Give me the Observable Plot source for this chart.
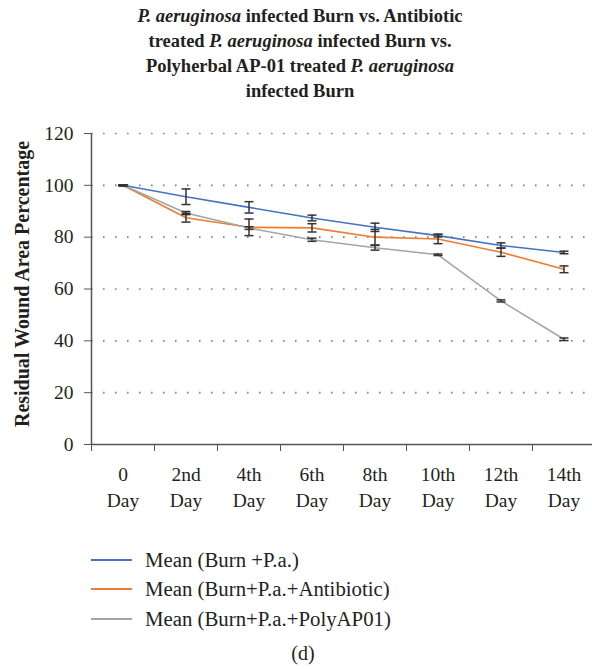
<!DOCTYPE html>
<html><head><meta charset="utf-8">
<script src="https://cdn.jsdelivr.net/npm/d3@7"></script>
<script src="https://cdn.jsdelivr.net/npm/@observablehq/plot@0.6"></script>
<style>
body{margin:0;background:#fff;overflow:hidden;font-family:"Liberation Serif",serif;color:#231f20}
#wrap{position:relative;width:592px;height:669px}
#chart{position:absolute;left:0;top:0}
#title{position:absolute;left:8px;width:584px;top:4px;text-align:center;font-weight:bold;font-size:18.5px;line-height:25px}
#ylabel{position:absolute;left:22px;top:284px;transform:translate(-50%,-50%) rotate(-90deg);white-space:nowrap;font-weight:bold;font-size:20px}
#legend{position:absolute;left:91px;top:545px}
.item{display:flex;align-items:center;height:29.5px;font-size:20.8px}
.sw{width:41px;height:1.6px;margin-right:13px}
#panel{position:absolute;left:0;width:606px;top:642px;text-align:center;font-size:20px}
</style>
</head><body>
<div id="wrap">
  <div id="chart"></div>
  <div id="title"></div>
  <div id="ylabel"></div>
  <div id="legend"></div>
  <div id="panel">(d)</div>
</div>
<script>
// ---- data ----
const days = ["0", "2nd", "4th", "6th", "8th", "10th", "12th", "14th"];
const dayWord = "Day";
const yTicks = [0, 20, 40, 60, 80, 100, 120];
const seriesNames = ["Mean (Burn +P.a.)", "Mean (Burn+P.a.+Antibiotic)", "Mean (Burn+P.a.+PolyAP01)"];
const seriesColors = ["#4472C4", "#ED7D31", "#A5A5A5"];
const burnMean = [100, 95.6, 91.5, 87.4, 83.8, 80.6, 76.8, 74.1];
const burnErr  = [0.2, 3.0, 2.2, 1.1, 1.6, 0.5, 1.0, 0.5];
const abxMean  = [100, 87.5, 83.8, 83.6, 80.0, 79.3, 74.2, 67.6];
const abxErr   = [0.2, 1.7, 3.2, 1.6, 3.0, 1.8, 1.6, 1.3];
const polyMean = [100, 89.3, 83.5, 79.0, 75.9, 73.2, 55.4, 40.6];
const polyErr  = [0.2, 0.6, 0.5, 0.6, 0.9, 0.3, 0.4, 0.5];
const yLabel = "Residual Wound Area Percentage";
const titleHTML = "<i>P. aeruginosa</i> infected Burn vs. Antibiotic<br>treated <i>P. aeruginosa</i> infected Burn vs.<br>Polyherbal AP-01 treated <i>P. aeruginosa</i><br>infected Burn";

// ---- build ----
const means = [burnMean, abxMean, polyMean];
const errs = [burnErr, abxErr, polyErr];
const rows = [];
seriesNames.forEach((s, k) => days.forEach((d, i) => rows.push({series: s, i, mean: means[k][i], err: errs[k][i]})));
const boundaries = d3.range(days.length + 1).map(k => k - 0.5);
const cap = {draw(ctx) { ctx.moveTo(-4.5, 0); ctx.lineTo(4.5, 0); }};

const chart = Plot.plot({
  width: 592, height: 520,
  marginTop: 133, marginBottom: 76, marginLeft: 91, marginRight: -3,
  style: {fontFamily: "Liberation Serif", color: "#231f20", background: "transparent", overflow: "visible"},
  x: {type: "linear", domain: [-0.5, days.length - 0.5]},
  y: {domain: [0, 120]},
  color: {domain: seriesNames, range: seriesColors},
  marks: [
    Plot.ruleY(yTicks.filter(v => v > 0), {stroke: "#808080", strokeWidth: 1.6, strokeDasharray: "1.6,10.4"}),
    Plot.axisY({ticks: yTicks, tickSize: 7, tickPadding: 11, fontSize: 19.5, label: null, stroke: "#555", fill: "#231f20"}),
    Plot.axisX({ticks: boundaries, tickSize: 7, tickFormat: () => "", label: null, stroke: "#555"}),
    Plot.axisX({ticks: d3.range(days.length), tickSize: 0, tickPadding: 18, fontSize: 19.5, lineHeight: 1.33,
      tickFormat: i => days[i] + "\n" + dayWord, label: null, fill: "#231f20"}),
    Plot.ruleX([-0.5], {stroke: "#555", strokeWidth: 1.5}),
    Plot.ruleY([0], {stroke: "#555", strokeWidth: 1.5}),
    Plot.line(rows, {x: "i", y: "mean", z: "series", stroke: "series", strokeWidth: 1.6}),
    Plot.ruleX(rows, {x: "i", y1: d => d.mean - d.err, y2: d => d.mean + d.err, stroke: "#333", strokeWidth: 1.5}),
    Plot.dot(rows, {x: "i", y: d => d.mean - d.err, symbol: cap, fill: "none", stroke: "#333", strokeWidth: 1.5}),
    Plot.dot(rows, {x: "i", y: d => d.mean + d.err, symbol: cap, fill: "none", stroke: "#333", strokeWidth: 1.5})
  ]
});
document.getElementById("chart").appendChild(chart);
document.getElementById("title").innerHTML = titleHTML;
document.getElementById("ylabel").textContent = yLabel;
const lg = document.getElementById("legend");
seriesNames.forEach((s, k) => {
  const it = document.createElement("div");
  it.className = "item";
  const sw = document.createElement("div");
  sw.className = "sw";
  sw.style.background = seriesColors[k];
  const tx = document.createElement("span");
  tx.textContent = s;
  it.appendChild(sw);
  it.appendChild(tx);
  lg.appendChild(it);
});
</script>
</body></html>
